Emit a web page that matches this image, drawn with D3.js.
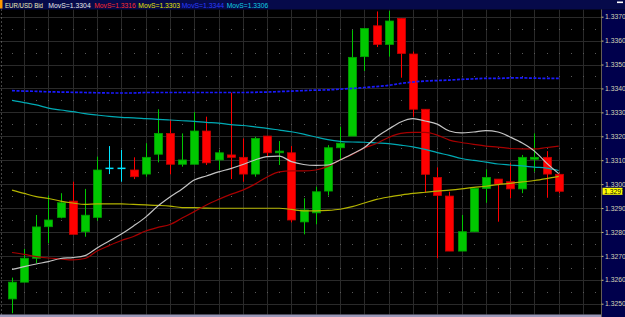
<!DOCTYPE html>
<html>
<head>
<meta charset="utf-8">
<script src="https://cdn.jsdelivr.net/npm/d3@7"></script>
<style>
html, body { margin: 0; padding: 0; background: #000; overflow: hidden; }
</style>
</head>
<body>
<div id="chart"></div>
<script>
// candles
const opens = [1.3252, 1.3259, 1.3269, 1.32822, 1.32861, 1.32929, 1.32801, 1.32861, 1.33069, 1.33069,
    1.33059, 1.33042, 1.33125, 1.33212, 1.33083, 1.33083, 1.33222, 1.33101, 1.33122, 1.33112,
    1.33042, 1.33201, 1.33131, 1.33131, 1.32842, 1.3288, 1.32971, 1.33152, 1.33201, 1.33533,
    1.33662, 1.33584, 1.33693, 1.33544, 1.33313, 1.33028, 1.3295, 1.3272, 1.32801, 1.32982,
    1.33021, 1.3301, 1.3298, 1.33104, 1.33112, 1.33041]
const highs = [1.32609, 1.32729, 1.32871, 1.32952, 1.32962, 1.3301, 1.3298, 1.33115, 1.33159, 1.33143,
    1.33112, 1.33171, 1.33313, 1.33271, 1.33212, 1.33301, 1.33282, 1.33143, 1.33382, 1.33191,
    1.33198, 1.33201, 1.3318, 1.33159, 1.32941, 1.32989, 1.33163, 1.3324, 1.33644, 1.33651,
    1.33722, 1.33724, 1.33693, 1.33554, 1.33313, 1.3307, 1.32968, 1.32871, 1.32982, 1.33062,
    1.33021, 1.33089, 1.33122, 1.33212, 1.33138, 1.33045]
const lows = [1.3246, 1.3259, 1.32669, 1.32753, 1.32857, 1.3279, 1.3278, 1.32847, 1.33042, 1.3301,
    1.33021, 1.33031, 1.33091, 1.33041, 1.33073, 1.33083, 1.3308, 1.33059, 1.33021, 1.3301,
    1.33031, 1.33115, 1.3308, 1.3284, 1.3279, 1.32832, 1.32952, 1.33101, 1.33201, 1.33473,
    1.33573, 1.33533, 1.33445, 1.33282, 1.32964, 1.3269, 1.3272, 1.3272, 1.32801, 1.32922,
    1.32843, 1.32941, 1.32962, 1.33052, 1.32943, 1.32962]
const closes = [1.3259, 1.3269, 1.32821, 1.3285, 1.32922, 1.3279, 1.3287, 1.33059, 1.33069, 1.33069,
    1.33031, 1.33112, 1.33212, 1.33083, 1.33101, 1.33222, 1.33089, 1.33131, 1.33112, 1.33042,
    1.33191, 1.33131, 1.33138, 1.3285, 1.32892, 1.32968, 1.33152, 1.33171, 1.3353, 1.33651,
    1.33584, 1.33682, 1.33546, 1.33313, 1.33041, 1.32952, 1.3272, 1.32801, 1.32982, 1.33028,
    1.33, 1.3298, 1.33112, 1.33112, 1.33042, 1.3297]

// moving averages at each candle
const maWhite = [1.32643, 1.32655, 1.32666, 1.32676, 1.32689, 1.32693, 1.32701, 1.32733, 1.32762, 1.32791,
    1.32825, 1.32862, 1.32908, 1.32946, 1.3298, 1.33017, 1.33034, 1.33051, 1.33065, 1.33082,
    1.33101, 1.33115, 1.33117, 1.33094, 1.33082, 1.33078, 1.3308, 1.33101, 1.33126, 1.33153,
    1.33197, 1.3323, 1.3326, 1.33274, 1.33264, 1.33251, 1.33222, 1.33214, 1.33218, 1.33224,
    1.33218, 1.33197, 1.33172, 1.33138, 1.33088, 1.33044]
const maRed = [1.32714, 1.32706, 1.32697, 1.32691, 1.32687, 1.32683, 1.32689, 1.3272, 1.32743, 1.32764,
    1.32781, 1.32804, 1.32819, 1.32831, 1.32858, 1.32885, 1.32913, 1.32936, 1.32957, 1.32975,
    1.33, 1.3303, 1.33051, 1.33055, 1.33055, 1.33059, 1.33074, 1.33101, 1.33124, 1.33151,
    1.3317, 1.33195, 1.33212, 1.33216, 1.33216, 1.33205, 1.33184, 1.33174, 1.33166, 1.33159,
    1.33155, 1.33149, 1.33147, 1.33147, 1.33153, 1.33159]
const maYellow = [1.32975, 1.32961, 1.32948, 1.3294, 1.32929, 1.32921, 1.32915, 1.32917, 1.32917, 1.32917,
    1.32915, 1.32913, 1.32911, 1.32908, 1.32902, 1.32902, 1.329, 1.32899, 1.32899, 1.32899,
    1.32899, 1.32899, 1.32899, 1.32894, 1.32888, 1.32888, 1.3289, 1.32895, 1.32906, 1.32921,
    1.32936, 1.32946, 1.32954, 1.32961, 1.32966, 1.32971, 1.32975, 1.3298, 1.32986, 1.32991,
    1.32998, 1.33003, 1.33009, 1.33015, 1.33023, 1.33032]
const maBlue = [1.33391, 1.33389, 1.33388, 1.33386, 1.33385, 1.33384, 1.33383, 1.33382, 1.33381, 1.33381,
    1.33381, 1.33383, 1.33383, 1.33383, 1.33383, 1.33383, 1.33383, 1.33383, 1.33383, 1.33383,
    1.33384, 1.33385, 1.33387, 1.33389, 1.33391, 1.33393, 1.33394, 1.33397, 1.334, 1.33404,
    1.33408, 1.33413, 1.33421, 1.33427, 1.33431, 1.33433, 1.33435, 1.33438, 1.3344, 1.33442,
    1.33442, 1.33444, 1.33444, 1.33443, 1.33442, 1.33442]
const maCyan = [1.3335, 1.33341, 1.33331, 1.33318, 1.3331, 1.33303, 1.33295, 1.33289, 1.33283, 1.33279,
    1.33277, 1.33274, 1.33271, 1.33268, 1.33265, 1.33262, 1.33258, 1.33255, 1.33249, 1.33245,
    1.33239, 1.33233, 1.33226, 1.33219, 1.33209, 1.33197, 1.33186, 1.33179, 1.33176, 1.33175,
    1.33172, 1.33169, 1.33163, 1.33156, 1.33145, 1.33132, 1.3312, 1.33107, 1.33099, 1.33092,
    1.33084, 1.3308, 1.33076, 1.33071, 1.33067, 1.33057]

const legendTexts = ["EUR/USD Bid", "MovS=1.3304", "MovS=1.3316", "MovS=1.3303", "MovS=1.3344", "MovS=1.3306"]
const legendColors = ["#eeeebb", "#e8e8e8", "#ff2a2a", "#e6e600", "#2a3cff", "#10d0e0"]
const legendX = [5, 48.3, 94.3, 138.3, 181.7, 226.7]
const legendW = [38, 42.4, 41.4, 41.7, 42.3, 41.6]

const width = 625
const height = 317
const plotTop = 9.5
const plotBottom = 314.5
const plotRight = 601

const x = d3.scaleLinear().domain([0, 45]).range([12, 558.75])
const y = d3.scaleLinear().domain([1.3250, 1.3370]).range([303.7, 16.7])

const svg = d3.select("#chart").append("svg")
    .attr("width", width)
    .attr("height", height)
    .style("display", "block")
    .style("font-family", "'Liberation Sans', Arial, sans-serif")

svg.append("rect").attr("width", width).attr("height", height).attr("fill", "#000")

// grid
const grid = svg.append("g")
const solidLevels = d3.range(0, 13).map(k => 1.3250 + k * 0.001)
const dotLevels = d3.range(-1, 13).map(k => 1.32550 + k * 0.001)
const slots = d3.range(0, 49)

grid.selectAll("line.h")
    .data(solidLevels)
    .join("line")
    .attr("x1", 0).attr("x2", plotRight)
    .attr("y1", d => Math.round(y(d)) + 0.5)
    .attr("y2", d => Math.round(y(d)) + 0.5)
    .attr("stroke", "#2a2a2a")

grid.selectAll("line.v")
    .data(slots.filter(i => i % 2 == 1))
    .join("line")
    .attr("x1", d => Math.round(x(d)) + 0.5)
    .attr("x2", d => Math.round(x(d)) + 0.5)
    .attr("y1", plotTop).attr("y2", plotBottom)
    .attr("stroke", "#2a2a2a")

grid.selectAll("rect.dot")
    .data(d3.cross(slots, dotLevels))
    .join("rect")
    .attr("x", d => Math.round(x(d[0])))
    .attr("y", d => Math.round(y(d[1])))
    .attr("width", 1).attr("height", 1)
    .attr("fill", "#5a5a5a")

svg.append("line")
    .attr("x1", 1.5).attr("x2", 1.5)
    .attr("y1", plotTop).attr("y2", plotBottom)
    .attr("stroke", "#8a8a8a")
    .attr("stroke-dasharray", "1,3")

// moving averages
const plot = svg.append("g")
const line = d3.line().x((d, i) => x(i)).y(d => y(d)).curve(d3.curveMonotoneX)

const maSeries = [
    { values: maCyan, color: "#00aab4", w: 1.2, dash: null },
    { values: maBlue, color: "#1a1aff", w: 1.7, dash: "3,1.5" },
    { values: maYellow, color: "#b4b400", w: 1.2, dash: null },
    { values: maRed, color: "#a80000", w: 1.2, dash: null },
    { values: maWhite, color: "#c4c4c4", w: 1.2, dash: null }
]

// candles
const candles = opens.map((o, i) => ({ i: i, o: o, h: highs[i], l: lows[i], c: closes[i] }))

function candleColor(d) {
    if (d.o === d.c) return "#00e4ff"
    return d.c > d.o ? "#00c800" : "#ff0000"
}
function candleEdge(d) {
    if (d.o === d.c) return "#00e4ff"
    return d.c > d.o ? "#00a000" : "#c80000"
}

const cg = plot.append("g")
cg.selectAll("line.wick")
    .data(candles)
    .join("line")
    .attr("x1", d => Math.round(x(d.i)) + 0.5)
    .attr("x2", d => Math.round(x(d.i)) + 0.5)
    .attr("y1", d => y(d.h))
    .attr("y2", d => y(d.l))
    .attr("stroke", d => candleColor(d))
    .attr("stroke-width", 1)

cg.selectAll("rect.body")
    .data(candles)
    .join("rect")
    .attr("x", d => Math.round(x(d.i)) - 3.5)
    .attr("y", d => y(Math.max(d.o, d.c)))
    .attr("width", 8)
    .attr("height", d => Math.max(1.5, y(Math.min(d.o, d.c)) - y(Math.max(d.o, d.c))))
    .attr("fill", d => candleColor(d))
    .attr("stroke", d => candleEdge(d))
    .attr("stroke-width", d => d.o === d.c ? 0 : 0.8)

plot.selectAll("path.ma")
    .data(maSeries)
    .join("path")
    .attr("d", d => line(d.values))
    .attr("fill", "none")
    .attr("stroke", d => d.color)
    .attr("stroke-width", d => d.w)
    .attr("stroke-dasharray", d => d.dash)

// bottom bar
svg.append("rect")
    .attr("x", 0).attr("y", plotBottom)
    .attr("width", plotRight).attr("height", height - plotBottom)
    .attr("fill", "#9a98b8")

// right price panel
svg.append("rect")
    .attr("x", plotRight).attr("y", plotTop)
    .attr("width", width - plotRight).attr("height", height - plotTop)
    .attr("fill", "#00004c")

const axis = d3.axisRight(y)
    .tickValues(solidLevels)
    .tickFormat(d3.format(".4f"))
    .tickSize(2)
    .tickPadding(1.5)

const axisG = svg.append("g")
    .attr("transform", "translate(" + (plotRight + 0.5) + ",0)")
    .call(axis)
axisG.select(".domain").remove()
axisG.selectAll(".tick line").attr("stroke", "#c8c080")
axisG.selectAll(".tick text")
    .attr("fill", "#d4d4b8")
    .style("font-size", "6.8px")
    .style("font-family", "'Liberation Sans', Arial, sans-serif")

svg.append("line")
    .attr("x1", plotRight + 0.5).attr("x2", plotRight + 0.5)
    .attr("y1", plotTop).attr("y2", height)
    .attr("stroke", "#c8b860")
    .attr("stroke-dasharray", "1,1")

// last price tag
const lastClose = closes[closes.length - 1]
svg.append("rect")
    .attr("x", plotRight + 1.5).attr("y", y(lastClose) - 3.5)
    .attr("width", 20).attr("height", 7)
    .attr("fill", "#ffff00")
svg.append("text")
    .attr("x", plotRight + 3).attr("y", y(lastClose) + 2.4)
    .attr("fill", "#101010")
    .style("font-size", "6.8px")
    .text(d3.format(".4f")(lastClose))

// top bar with legend
svg.append("rect")
    .attr("x", 0).attr("y", 0)
    .attr("width", width).attr("height", plotTop)
    .attr("fill", "#060a4a")
svg.append("rect")
    .attr("x", 0).attr("y", 0)
    .attr("width", 2.5).attr("height", 8.5)
    .attr("fill", "#ff9a00")
svg.append("rect")
    .attr("x", 617).attr("y", 1.5)
    .attr("width", 6).attr("height", 1.6)
    .attr("fill", "#ffffff")

svg.append("g").selectAll("text")
    .data(legendTexts)
    .join("text")
    .attr("x", (d, i) => legendX[i])
    .attr("y", 8.2)
    .attr("fill", (d, i) => legendColors[i])
    .attr("textLength", (d, i) => legendW[i])
    .attr("lengthAdjust", "spacingAndGlyphs")
    .style("font-size", "7px")
    .text(d => d)
</script>
</body>
</html>
